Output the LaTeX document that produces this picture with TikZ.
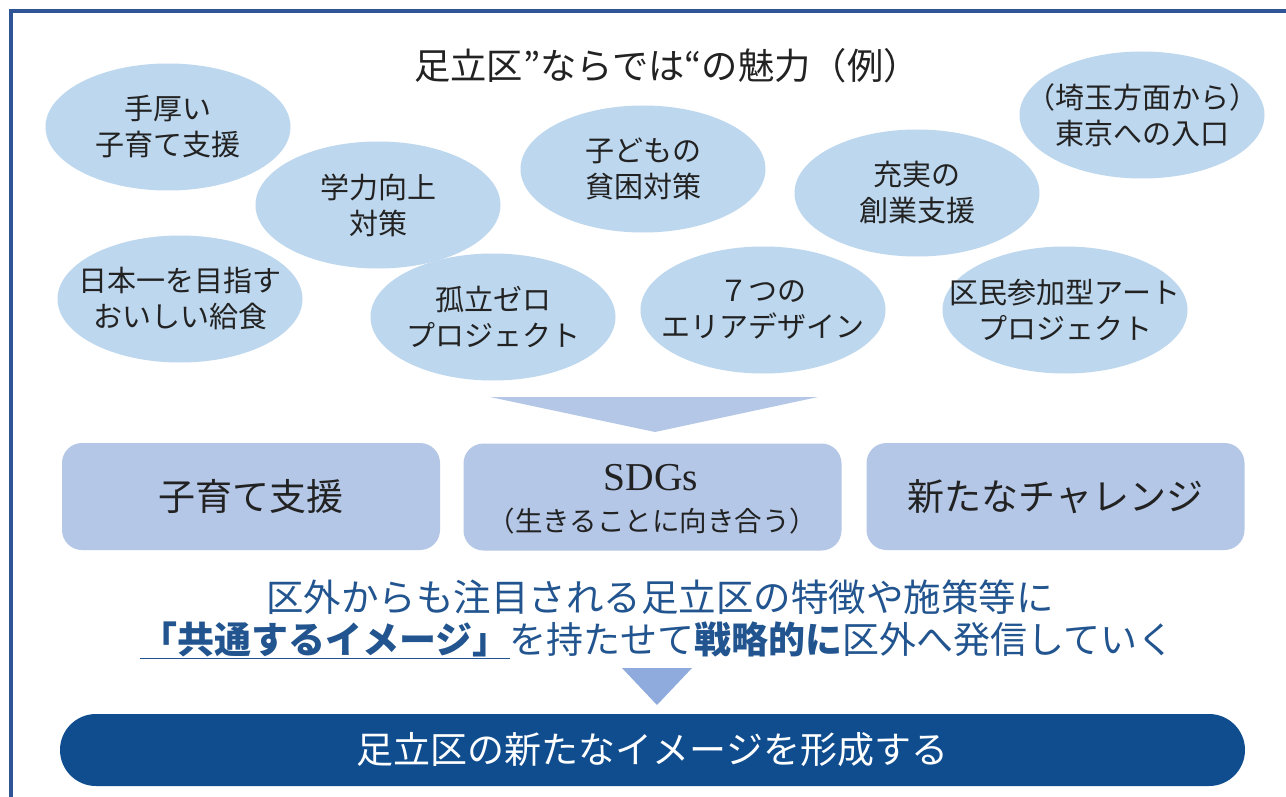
\documentclass[tikz,border=0pt]{standalone}
\usepackage{fontspec}
\setmainfont{Noto Sans CJK JP}
\newfontfamily\serifL{Liberation Serif}
\usetikzlibrary{shapes.geometric}
\definecolor{frameblue}{HTML}{2F5597}
\definecolor{bubblefill}{HTML}{BDD7EE}
\definecolor{boxfill}{HTML}{B4C7E7}
\definecolor{arrowfill}{HTML}{B4C7E7}
\definecolor{arrowdark}{HTML}{8FAADC}
\definecolor{textblue}{HTML}{22558F}
\definecolor{barblue}{HTML}{0F4D8F}
\definecolor{ink}{HTML}{222222}
\tikzset{
  bubble/.style={ellipse, fill=bubblefill, draw=none, inner sep=0pt, minimum width=245pt, minimum height=127pt},
  btext/.style={align=center, text=ink, font=\fontsize{29}{36}\selectfont},
  boxy/.style={rectangle, rounded corners=20pt, fill=boxfill, draw=none, minimum width=378pt, minimum height=107pt, inner sep=0pt, align=center, text=ink},
  bluetext/.style={text=textblue, inner sep=0pt, font=\fontsize{37.5}{42}\selectfont},
}
\begin{document}
\begin{tikzpicture}[x=1pt,y=-1pt]
\useasboundingbox (0,0) rectangle (1286,797);
\fill[white] (0,0) rectangle (1286,797);
% frame
\draw[frameblue, line width=4pt] (11,800) -- (11,11) -- (1290,11);
% title
\node[text=ink, font=\fontsize{36.3}{40}\selectfont] (title) at (667,66) {足立区”ならでは“の魅力（例）};
% bubbles
\node[bubble] (b1) at (168,127) {};
\node[btext] at (b1) {手厚い\\子育て支援};
\node[bubble] (b2) at (378,205) {};
\node[btext] at (b2) {学力向上\\対策};
\node[bubble] (b3) at (643,169) {};
\node[btext] at (b3) {子どもの\\貧困対策};
\node[bubble] (b4) at (917,193) {};
\node[btext] at (b4) {充実の\\創業支援};
\node[bubble] (b5) at (1142,115) {};
\node[btext] at (b5) {（埼玉方面から）\\東京への入口};
\node[bubble] (b6) at (180,299) {};
\node[btext] at (b6) {日本一を目指す\\おいしい給食};
\node[bubble] (b7) at (493,317) {};
\node[btext] at (b7) {孤立ゼロ\\プロジェクト};
\node[bubble] (b8) at (763,310) {};
\node[btext] at (b8) {７つの\\エリアデザイン};
\node[bubble] (b9) at (1065,310) {};
\node[btext] at (b9) {区民参加型アート\\プロジェクト};
% big arrow
\fill[arrowfill] (490,397) -- (818,397) -- (655,432) -- cycle;
% boxes
\node[boxy, font=\fontsize{37}{40}\selectfont] (k1) at (251,496.5) {子育て支援};
\node[boxy] (k2) at (652.5,497) {};
\node[text=ink, inner sep=0pt, font=\serifL\fontsize{39.5}{40}\selectfont] (k2a) at (651,478) {SDGs};
\node[text=ink, inner sep=0pt, font=\fontsize{27.5}{32}\selectfont] (k2b) at (652.5,521) {（生きることに向き合う）};
\node[boxy, font=\fontsize{37}{40}\selectfont] (k3) at (1055.5,496.5) {新たなチャレンジ};
% blue text
\node[bluetext] (t1) at (660,597) {区外からも注目される足立区の特徴や施策等に};
\node[bluetext, font=\fontsize{37}{42}\selectfont] (t2) at (657.5,640) {\underline{\textbf{「共通するイメージ」}}を持たせて\textbf{戦略的に}区外へ発信していく};
% small arrow
\fill[arrowdark] (622,668) -- (692,668) -- (657,705) -- cycle;
% bottom bar
\node[rectangle, rounded corners=36pt, fill=barblue, minimum width=1185pt, minimum height=72pt, inner sep=0pt, text=white, font=\fontsize{37}{40}\selectfont] (bar) at (652.5,750) {足立区の新たなイメージを形成する};
\end{tikzpicture}
\end{document}
